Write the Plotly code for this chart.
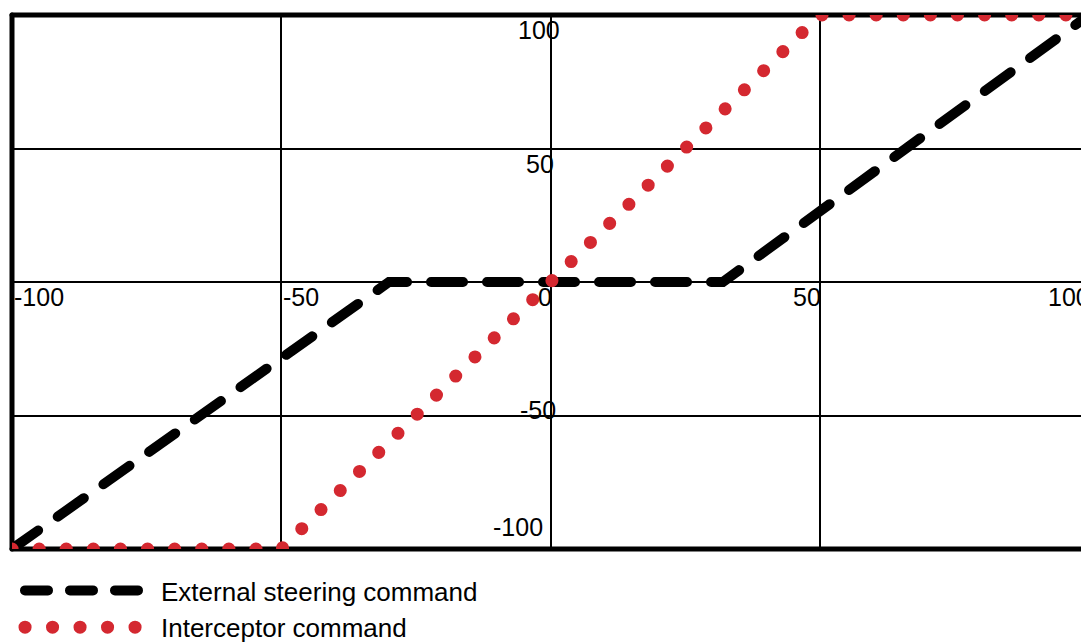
import plotly.graph_objects as go

# Command curves (input %, output %)
steer_x = [-100, -30, 32, 100]
steer_y = [-100, 0, 0, 100]
icpt_x = [-100, -50, 50, 100]
icpt_y = [-100, -100, 100, 100]

x_ticks = [-100, -50, 0, 50, 100]
y_ticks = [100, 50, -50, -100]

X_RANGE = [-100, 98.5]
Y_RANGE = [-100, 100]

FONT = "Liberation Sans, Arial, sans-serif"

# pixel offsets of the y tick labels next to the vertical zero line
y_label_shift = {100: (-12, -15), 50: (-11, -15), -50: (-13, 6), -100: (-33, 22)}

fig = go.Figure()
fig.add_trace(go.Scatter(
    x=steer_x, y=steer_y, mode="lines", name="External steering command",
    line=dict(color="#000000", width=10, dash="32px,24px"),
))
fig.add_trace(go.Scatter(
    x=icpt_x, y=icpt_y, mode="lines", name="Interceptor command",
    line=dict(color="#d42830", width=13, dash="0.1px,27px"),
))

annotations = []
for v in x_ticks:
    neg = v < 0
    annotations.append(dict(
        xref="paper", yref="y",
        x=(v - X_RANGE[0]) / (X_RANGE[1] - X_RANGE[0]), y=0,
        text=str(v), showarrow=False,
        xanchor="left" if neg else "right", yanchor="middle",
        xshift=0 if neg else 3, yshift=-15,
        font=dict(family=FONT, size=25, color="#000000"),
    ))
for v in y_ticks:
    dx, dy = y_label_shift[v]
    annotations.append(dict(
        xref="x", yref="y", x=0, y=v, text=str(v), showarrow=False,
        xanchor="center", yanchor="middle", xshift=dx, yshift=dy,
        font=dict(family=FONT, size=25, color="#000000"),
    ))

# heavy frame on left, top and bottom (right side runs off the canvas)
frame = [
    dict(x0=0, x1=0, y0=0, y1=1),
    dict(x0=0, x1=1, y0=1, y1=1),
    dict(x0=0, x1=1, y0=0, y1=0),
]
shapes = [dict(type="line", xref="x domain", yref="y domain", layer="below",
               line=dict(color="#000000", width=5), **f) for f in frame]

axis_common = dict(
    showgrid=True, gridcolor="#000000", gridwidth=2,
    zeroline=True, zerolinecolor="#000000", zerolinewidth=2,
    showticklabels=False, ticks="", showline=False, dtick=50, tick0=0,
    fixedrange=True,
)

fig.update_layout(
    width=1081, height=642,
    margin=dict(l=12, r=0, t=15, b=93),
    paper_bgcolor="#ffffff", plot_bgcolor="#ffffff",
    xaxis=dict(range=X_RANGE, **axis_common),
    yaxis=dict(range=Y_RANGE, **axis_common),
    annotations=annotations, shapes=shapes,
    showlegend=True,
    legend=dict(
        xref="paper", yref="container",
        x=0, xanchor="left", y=1 - 567 / 642, yanchor="top",
        orientation="v", itemwidth=139, tracegroupgap=0,
        bgcolor="rgba(0,0,0,0)",
        font=dict(family=FONT, size=26, color="#000000"),
    ),
)

# round line caps; legend samples show three dashes / five dots
line_css = """
var s = document.createElement('style');
s.textContent = [
  '.scatterlayer path.js-line, .legend path, .shapelayer path {stroke-linecap: round !important;}',
  '.legend .traces:nth-child(1) path.js-line {stroke-width: 10px !important; stroke-dasharray: 23px,22px,23px,22px,23px,400px !important; stroke-dashoffset: -8px !important;}',
  '.legend .traces:nth-child(2) path.js-line {stroke-width: 13px !important; stroke-dasharray: 0.1px,27.4px,0.1px,27.4px,0.1px,27.4px,0.1px,27.4px,0.1px,400px !important; stroke-dashoffset: -8px !important;}'
].join('\\n');
document.head.appendChild(s);
"""

fig.write_html("out.html", post_script=line_css)
